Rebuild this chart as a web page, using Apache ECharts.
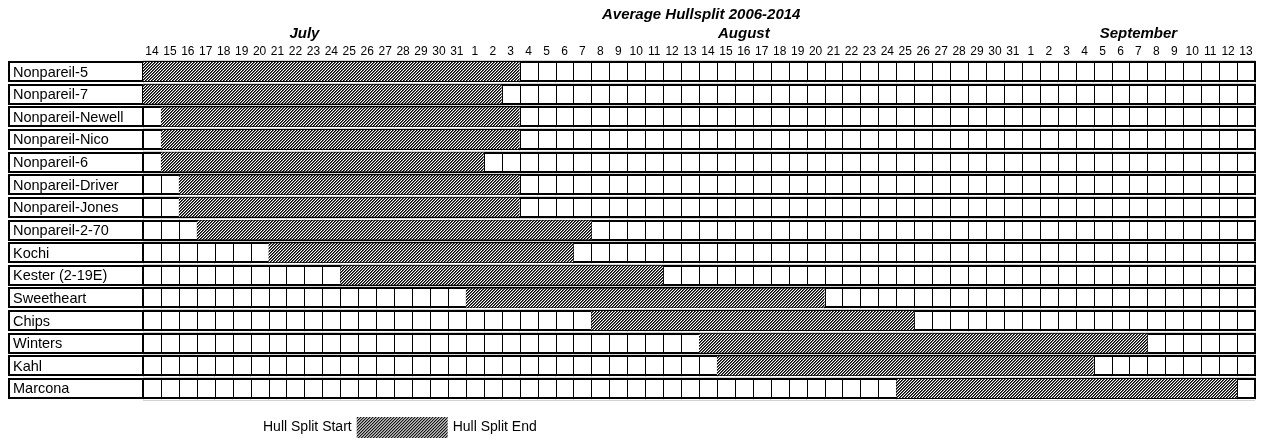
<!DOCTYPE html>
<html>
<head>
<meta charset="utf-8">
<title>Average Hullsplit 2006-2014</title>
<script src="https://cdn.jsdelivr.net/npm/echarts@6/dist/echarts.min.js"></script>
<style>
  html, body { margin: 0; padding: 0; background: #fff; }
  #chart { width: 1265px; height: 442px; }
</style>
</head>
<body>
<div id="chart"></div>
<script>
  // day columns of the calendar
  const julyDays = ['14', '15', '16', '17', '18', '19', '20', '21', '22', '23', '24', '25', '26', '27', '28', '29', '30', '31']
  const augustDays = ['1', '2', '3', '4', '5', '6', '7', '8', '9', '10', '11', '12', '13', '14', '15', '16',
    '17', '18', '19', '20', '21', '22', '23', '24', '25', '26', '27', '28', '29', '30', '31']
  const septemberDays = ['1', '2', '3', '4', '5', '6', '7', '8', '9', '10', '11', '12', '13']

  // month headings and the day column they sit over
  const monthNames = ['July', 'August', 'September']
  const monthLabelDay = ['Jul 22', 'Aug 16', 'Sep 7']

  const varieties = ['Nonpareil-5', 'Nonpareil-7', 'Nonpareil-Newell', 'Nonpareil-Nico', 'Nonpareil-6',
    'Nonpareil-Driver', 'Nonpareil-Jones', 'Nonpareil-2-70', 'Kochi', 'Kester (2-19E)', 'Sweetheart',
    'Chips', 'Winters', 'Kahl', 'Marcona']

  // average hull split window (first and last day)
  const splitStart = ['Jul 14', 'Jul 14', 'Jul 15', 'Jul 15', 'Jul 15', 'Jul 16', 'Jul 16', 'Jul 17',
    'Jul 21', 'Jul 25', 'Aug 1', 'Aug 8', 'Aug 14', 'Aug 15', 'Aug 25']
  const splitEnd = ['Aug 3', 'Aug 2', 'Aug 3', 'Aug 3', 'Aug 1', 'Aug 3', 'Aug 3', 'Aug 7',
    'Aug 6', 'Aug 11', 'Aug 20', 'Aug 25', 'Sep 7', 'Sep 4', 'Sep 12']

  const days = [
    ...julyDays.map((d) => 'Jul ' + d),
    ...augustDays.map((d) => 'Aug ' + d),
    ...septemberDays.map((d) => 'Sep ' + d)
  ]
  const startIdx = splitStart.map((d) => days.indexOf(d))
  const spanLen = splitEnd.map((d, i) => days.indexOf(d) - startIdx[i] + 1)

  const FONT = '"Liberation Sans", Arial, sans-serif'
  const LABEL_W = 134
  const ROW_BOX = 19

  // diagonal hatch like the old excel fill
  function hatchPattern() {
    const c = document.createElement('canvas')
    c.width = 6
    c.height = 6
    const ctx = c.getContext('2d')
    ctx.fillStyle = '#fff'
    ctx.fillRect(0, 0, 6, 6)
    for (let y = 0; y < 6; y++) {
      for (let x = 0; x < 6; x++) {
        const k = (x + y) % 3
        if (k === 0) {
          ctx.fillStyle = '#000'
          ctx.fillRect(x, y, 1, 1)
        } else if (k === 1) {
          ctx.fillStyle = '#5a5a5a'
          ctx.fillRect(x, y, 1, 1)
        }
      }
    }
    return c
  }

  // one row: name box + empty day cells
  function renderRow(params, api) {
    const r = api.value(1)
    const cs = params.coordSys
    const cellW = api.size([1, 0])[0]
    const yc = api.coord([0, r])[1]
    const top = Math.round(yc - ROW_BOX / 2)
    const children = [
      {
        type: 'rect',
        shape: { x: cs.x - LABEL_W, y: top, width: LABEL_W, height: ROW_BOX },
        style: { fill: '#fff', stroke: '#000', lineWidth: 2 }
      },
      {
        type: 'text',
        style: {
          x: cs.x - LABEL_W + 4, y: yc + 1, text: varieties[r], fill: '#000',
          font: '14.5px ' + FONT, verticalAlign: 'middle'
        }
      },
      {
        type: 'rect',
        shape: { x: cs.x, y: top, width: cs.width, height: ROW_BOX },
        style: { fill: '#fff', stroke: '#000', lineWidth: 2 }
      }
    ]
    for (let i = 1; i < days.length; i++) {
      const x = Math.round(api.coord([i, r])[0] - cellW / 2) + 0.5
      children.push({
        type: 'line',
        shape: { x1: x, y1: top, x2: x, y2: top + ROW_BOX },
        style: { stroke: '#000', lineWidth: 1 }
      })
    }
    return { type: 'group', children }
  }

  const chart = echarts.init(document.getElementById('chart'))

  chart.setOption({
    animation: false,
    backgroundColor: '#fff',
    textStyle: { fontFamily: FONT },
    title: {
      text: 'Average Hullsplit 2006-2014',
      left: 602,
      top: 7,
      padding: 0,
      textStyle: { fontSize: 15, fontWeight: 'bold', fontStyle: 'italic', color: '#000', fontFamily: FONT }
    },
    legend: {
      data: ['Hull Split Start', 'Hull Split End'],
      left: 167,
      top: 417,
      icon: 'rect',
      itemWidth: 91,
      itemHeight: 21,
      itemGap: 5,
      padding: 0,
      selectedMode: false,
      textStyle: { fontSize: 14, color: '#000', fontFamily: FONT }
    },
    grid: { left: 143, right: 10, top: 60.2, bottom: 42.2, containLabel: false },
    xAxis: [
      {
        type: 'category',
        data: days,
        position: 'top',
        axisLine: { show: false },
        axisTick: { show: false },
        axisLabel: {
          interval: 0, margin: 3, fontSize: 12, color: '#000', fontFamily: FONT,
          formatter: (v) => v.split(' ')[1]
        },
        splitLine: { show: true, lineStyle: { color: '#d4d4d4', width: 1 } }
      },
      {
        type: 'category',
        data: days,
        position: 'top',
        offset: 17,
        axisLine: { show: false },
        axisTick: { show: false },
        splitLine: { show: false },
        axisLabel: {
          interval: 0, margin: 2, hideOverlap: false,
          formatter: (v) => {
            const k = monthLabelDay.indexOf(v)
            if (k < 0) return ''
            return k === 0 ? '{shift|' + monthNames[k] + '}' : '{m|' + monthNames[k] + '}'
          },
          rich: {
            m: { fontSize: 15, fontWeight: 'bold', fontStyle: 'italic', color: '#000', fontFamily: FONT },
            shift: {
              fontSize: 15, fontWeight: 'bold', fontStyle: 'italic', color: '#000', fontFamily: FONT,
              padding: [0, 0, 0, 18]
            }
          }
        }
      },
      { type: 'value', min: 0, max: days.length, show: false }
    ],
    yAxis: {
      type: 'category',
      data: varieties,
      inverse: true,
      axisLine: { show: false },
      axisTick: { show: false },
      axisLabel: { show: false },
      splitLine: { show: true, lineStyle: { color: '#d4d4d4', width: 1 } }
    },
    series: [
      {
        name: 'rows',
        type: 'custom',
        xAxisIndex: 0,
        yAxisIndex: 0,
        z: 1,
        clip: false,
        silent: true,
        renderItem: renderRow,
        data: varieties.map((v, i) => [0, i])
      },
      {
        name: 'Hull Split Start',
        type: 'bar',
        xAxisIndex: 2,
        yAxisIndex: 0,
        stack: 'split',
        z: 3,
        barWidth: ROW_BOX,
        itemStyle: { color: 'rgba(0,0,0,0)' },
        data: startIdx
      },
      {
        name: 'Hull Split End',
        type: 'bar',
        xAxisIndex: 2,
        yAxisIndex: 0,
        stack: 'split',
        z: 3,
        barWidth: ROW_BOX,
        itemStyle: {
          color: { image: hatchPattern(), repeat: 'repeat' },
          borderWidth: 0
        },
        data: spanLen
      }
    ]
  })

  window.addEventListener('resize', () => chart.resize())
</script>
</body>
</html>
